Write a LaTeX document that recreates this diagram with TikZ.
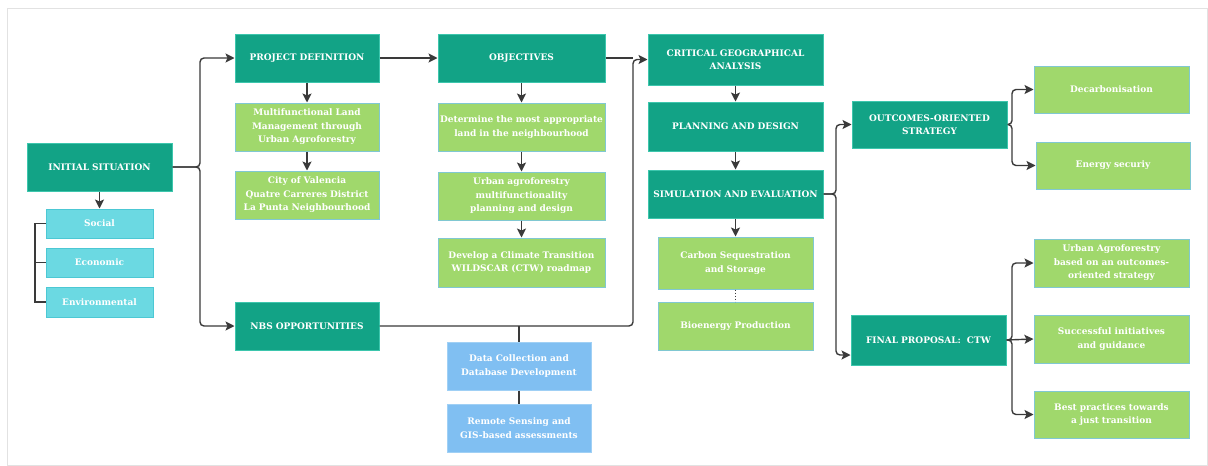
\documentclass[tikz,border=0pt]{standalone}
\usepackage{fontspec}
\setmainfont{DejaVu Serif}
\usetikzlibrary{arrows.meta}
\definecolor{teal1}{HTML}{12A386}
\definecolor{tealb}{HTML}{3DC6AD}
\definecolor{green1}{HTML}{A0D86C}
\definecolor{greenb}{HTML}{80C8D2}
\definecolor{cyan1}{HTML}{6BD9E2}
\definecolor{cyanb}{HTML}{4CC8D4}
\definecolor{blue1}{HTML}{80BFF2}
\definecolor{blueb}{HTML}{A0D0F5}
\definecolor{linec}{HTML}{3A3A3A}
\definecolor{framec}{HTML}{E2E2E2}
\newcommand\bx[7]{\node[#6, minimum width={(#4-#2)*1pt}, minimum height={(#5-#3)*1pt}, text width={(#4-#2-2)*1pt}] (#1) at ({(#2+#4)/2},{(#3+#5)/2}) {#7};}
\tikzset{
  box/.style={draw, line width=1pt, inner sep=0pt, align=center, text=white, font=\fontsize{9}{13.5}\selectfont\bfseries},
  tealbox/.style={box, fill=teal1, draw=tealb},
  greenbox/.style={box, fill=green1, draw=greenb},
  cyanbox/.style={box, fill=cyan1, draw=cyanb},
  bluebox/.style={box, fill=blue1, draw=blueb},
  conn/.style={draw=linec, line width=1.4pt},
  arr/.style={conn, -{Stealth[length=9pt,width=9pt,inset=2pt]}},
}
\begin{document}
\begin{tikzpicture}[x=1pt,y=-1pt]
\useasboundingbox (0,0) rectangle (1208,466);
\fill[white] (0,0) rectangle (1208,466);
\draw[framec, line width=1pt] (7,8) rectangle (1207,465);
% boxes
\bx{init}{27}{143}{172}{191}{tealbox}{INITIAL SITUATION}
\bx{social}{46}{209}{153}{238}{cyanbox}{Social}
\bx{econ}{46}{248}{153}{277}{cyanbox}{Economic}
\bx{env}{46}{287}{153}{317}{cyanbox}{Environmental}
\bx{pd}{235}{34}{379}{82}{tealbox}{PROJECT DEFINITION}
\bx{mf}{235}{103}{379}{151}{greenbox}{Multifunctional Land\\Management through\\Urban Agroforestry}
\bx{city}{235}{171}{379}{219}{greenbox}{City of Valencia\\Quatre Carreres District\\La Punta Neighbourhood}
\bx{nbs}{235}{302}{379}{350}{tealbox}{NBS OPPORTUNITIES}
\bx{obj}{438}{34}{605}{82}{tealbox}{OBJECTIVES}
\bx{det}{438}{103}{605}{151}{greenbox}{Determine the most appropriate\\land in the neighbourhood}
\bx{urb}{438}{172}{605}{220}{greenbox}{Urban agroforestry\\multifunctionality\\planning and design}
\bx{dev}{438}{238}{605}{287}{greenbox}{Develop a Climate Transition\\WILDSCAR (CTW) roadmap}
\bx{data}{447}{342}{591}{390}{bluebox}{Data Collection and\\Database Development}
\bx{rem}{447}{404}{591}{452}{bluebox}{Remote Sensing and\\GIS-based assessments}
\bx{cga}{648}{34}{823}{85}{tealbox}{CRITICAL GEOGRAPHICAL\\ANALYSIS}
\bx{plan}{648}{102}{823}{151}{tealbox}{PLANNING AND DESIGN}
\bx{sim}{648}{170}{823}{218}{tealbox}{SIMULATION AND EVALUATION}
\bx{carb}{658}{237}{813}{289}{greenbox}{Carbon Sequestration\\and Storage}
\bx{bio}{658}{302}{813}{350}{greenbox}{Bioenergy Production}
\bx{out}{852}{101}{1007}{148}{tealbox}{OUTCOMES-ORIENTED\\STRATEGY}
\bx{fin}{851}{315}{1006}{365}{tealbox}{FINAL PROPOSAL:\ \ CTW}
\bx{dec}{1034}{66}{1189}{113}{greenbox}{Decarbonisation}
\bx{ene}{1036}{142}{1190}{189}{greenbox}{Energy securiy}
\bx{ua}{1034}{239}{1189}{287}{greenbox}{Urban Agroforestry\\based on an outcomes-\\oriented strategy}
\bx{suc}{1034}{315}{1189}{363}{greenbox}{Successful initiatives\\and guidance}
\bx{best}{1034}{391}{1189}{438}{greenbox}{Best practices towards\\a just transition}
% junction coordinates
\coordinate (j0) at (35,0);
\coordinate (f1) at (200,0);
\coordinate (f2) at (633,0);
\coordinate (f3) at (519,0);
\coordinate (f4) at (836,0);
\coordinate (f5) at (1012,0);
% connectors
\draw[arr] (init.south) -- (social.north);
\draw[conn] (social.west) -- (social.west -| j0) -- (env.west -| j0) -- (env.west);
\draw[conn] (econ.west -| j0) -- (econ.west);
\draw[arr, rounded corners=4pt] (init.east) -- (init.east -| f1) -- (pd.west -| f1) -- (pd.west);
\draw[arr, rounded corners=4pt] (init.east) -- (init.east -| f1) -- (nbs.west -| f1) -- (nbs.west);
\draw[arr] (pd.east) -- (obj.west);
\draw[arr] (pd.south) -- (mf.north);
\draw[arr] (mf.south) -- (city.north);
\draw[arr] (obj.south) -- (det.north);
\draw[arr] (det.south) -- (urb.north);
\draw[arr] (urb.south) -- (dev.north);
\draw[arr, rounded corners=4pt] (nbs.east) -- (nbs.east -| f2) -- (cga.west -| f2) -- (cga.west);
\draw[conn] (obj.east) -- (obj.east -| f2);
\draw[conn] (nbs.east -| f3) -- (data.north -| f3);
\draw[conn] (data.south -| f3) -- (rem.north -| f3);
\draw[arr] (cga.south) -- (plan.north);
\draw[arr] (plan.south) -- (sim.north);
\draw[arr] (sim.south) -- (carb.north);
\draw[draw=linec, line width=1pt, dotted] (carb.south) -- (bio.north);
\draw[arr, rounded corners=4pt] (sim.east) -- (sim.east -| f4) -- (out.west -| f4) -- (out.west);
\draw[arr, rounded corners=4pt] (sim.east) -- (sim.east -| f4) -- ([yshift=-15pt]fin.west -| f4) -- ([yshift=-15pt]fin.west);
\draw[arr, rounded corners=4pt] (out.east) -- (out.east -| f5) -- (dec.west -| f5) -- (dec.west);
\draw[arr, rounded corners=4pt] (out.east) -- (out.east -| f5) -- (ene.west -| f5) -- (ene.west);
\draw[arr, rounded corners=4pt] (fin.east) -- (fin.east -| f5) -- (ua.west -| f5) -- (ua.west);
\draw[arr] (fin.east) -- (suc.west);
\draw[arr, rounded corners=4pt] (fin.east) -- (fin.east -| f5) -- (best.west -| f5) -- (best.west);
\end{tikzpicture}
\end{document}
